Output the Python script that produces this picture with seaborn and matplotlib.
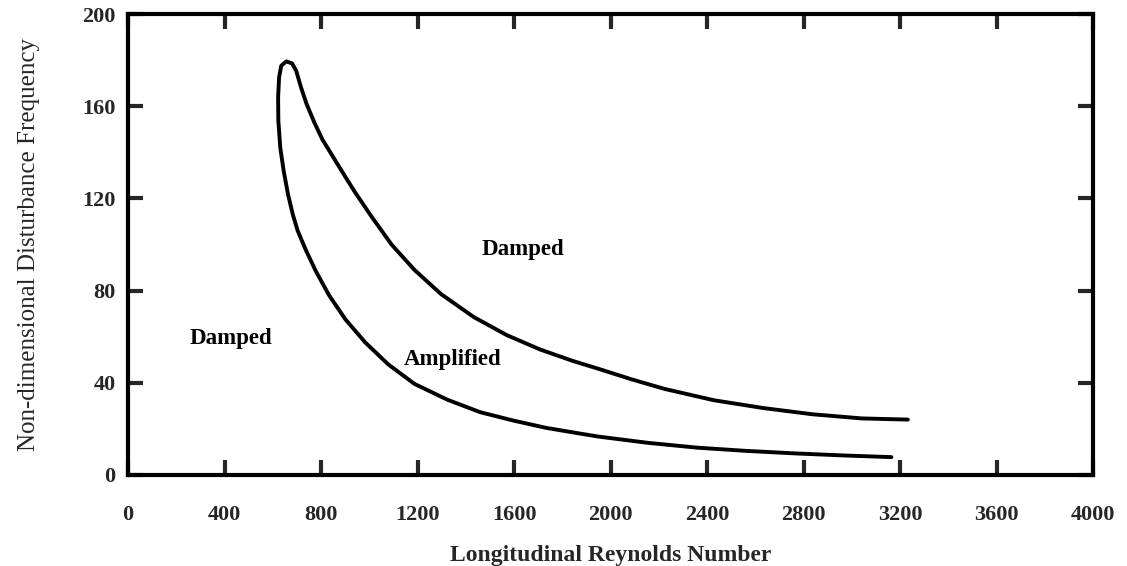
import matplotlib
matplotlib.use("Agg")
import matplotlib.pyplot as plt
import seaborn as sns
import pandas as pd

# neutral stability curve
# lower branch: from its right end back up to the nose
lower_re = [3164, 2973, 2769, 2564, 2360, 2155, 1951, 1869, 1733, 1596, 1460, 1324,
            1187, 1078, 983, 901, 833, 778, 737, 703, 683, 663, 645, 631, 623, 622,
            626, 635, 656]
lower_freq = [7.7, 8.4, 9.3, 10.4, 11.8, 13.9, 16.6, 18.0, 20.4, 23.6, 27.2, 32.6,
              39.5, 48, 57.5, 67.5, 78, 88.5, 97.6, 106, 113, 121.8, 132, 142, 153.7, 163.8,
              172.5, 177.6, 179.5]
# upper branch: from the nose out to the right
upper_re = [656, 680, 697, 717, 740, 772, 806, 850, 900, 942, 1010, 1092, 1187,
            1297, 1433, 1569, 1706, 1842, 1951, 2086, 2224, 2428, 2633, 2837, 3042, 3232]
upper_freq = [179.5, 178.6, 175.4, 168.2, 161, 153, 145.5, 138, 129.5, 122.5, 112, 100, 89,
              78.5, 68.5, 60.7, 54.5, 49.5, 46, 41.5, 37.3, 32.4, 29, 26.3, 24.5, 24]

x_ticks = [0, 400, 800, 1200, 1600, 2000, 2400, 2800, 3200, 3600, 4000]
y_ticks = [0, 40, 80, 120, 160, 200]

regions = ["Damped", "Amplified", "Damped"]
region_re = [1636, 1346, 426]
region_freq = [98, 50, 59]

curve = pd.DataFrame({
    "re": lower_re + upper_re[1:],
    "freq": lower_freq + upper_freq[1:],
})

sns.set_style("ticks")
plt.rcParams["font.family"] = ["Liberation Serif", "DejaVu Serif"]

fig = plt.figure(figsize=(11.27, 5.66), dpi=100)
ax = fig.add_axes([0.1136, 0.161, 0.8564, 0.814])

sns.lineplot(data=curve, x="re", y="freq", sort=False, estimator=None,
             color="black", linewidth=2.8, ax=ax)
for line in ax.get_lines():
    line.set_solid_joinstyle("round")
    line.set_solid_capstyle("round")

for label, rx, ry in zip(regions, region_re, region_freq):
    ax.text(rx, ry, label, ha="center", va="center", fontsize=16.5,
            fontweight="bold", color="black")

ax.set_xlim(0, 4000)
ax.set_ylim(0, 200)
ax.set_xticks(x_ticks)
ax.set_yticks(y_ticks)
ax.set_xticklabels([str(t) for t in x_ticks], fontsize=16, fontweight="bold")
ax.set_yticklabels([str(t) for t in y_ticks], fontsize=16, fontweight="bold")
ax.tick_params(axis="x", direction="in", length=11, width=3, pad=22,
               top=True, bottom=True)
ax.tick_params(axis="y", direction="in", length=11, width=3, pad=9,
               left=True, right=True)
for side in ["left", "right", "top", "bottom"]:
    ax.spines[side].set_visible(True)
    ax.spines[side].set_linewidth(3)
    ax.spines[side].set_color("black")

ax.set_xlabel("Longitudinal Reynolds Number", fontsize=17, fontweight="bold",
              labelpad=14)
ax.set_ylabel("Non-dimensional Disturbance Frequency", fontsize=18,
              labelpad=30)

fig.savefig("out.png", dpi=100, facecolor="white")
